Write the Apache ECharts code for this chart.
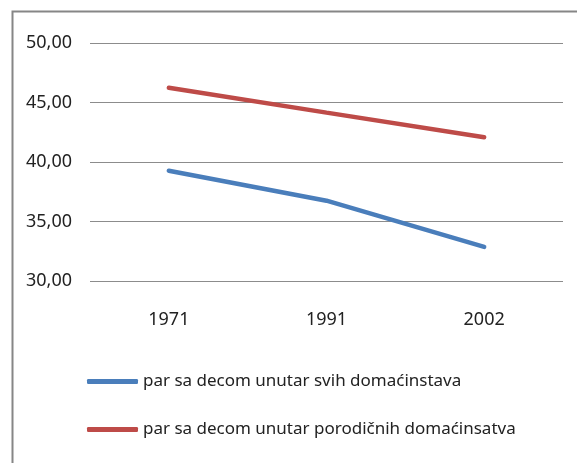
<!DOCTYPE html>
<html>
<head>
<meta charset="utf-8">
<script src="https://cdn.jsdelivr.net/npm/echarts@6/dist/echarts.min.js"></script>
<style>
  html, body { margin: 0; padding: 0; background: #fff; }
  #chart { width: 577px; height: 463px; }
</style>
</head>
<body>
<div id="chart"></div>
<script>
const years = ['1971', '1991', '2002']
const sviDomacinstva = [39.27, 36.75, 32.87]
const porodicnaDomacinstva = [46.24, 44.15, 42.08]
const seriesNames = [
  'par sa decom unutar svih domaćinstava',
  'par sa decom unutar porodičnih domaćinsatva'
]

const font = '"Noto Sans", sans-serif'
const chart = echarts.init(document.getElementById('chart'))

chart.setOption({
  animation: false,
  textStyle: { fontFamily: font },
  graphic: [{
    type: 'rect',
    left: 10,
    top: 9,
    shape: { width: 600, height: 500 },
    style: { fill: 'none', stroke: '#868686', lineWidth: 2 },
    silent: true
  }],
  grid: { left: 90, right: 14, top: 43, bottom: 182 },
  legend: {
    orient: 'vertical',
    left: 87,
    top: 373,
    padding: 0,
    itemWidth: 51,
    itemHeight: 5,
    itemGap: 31,
    icon: 'roundRect',
    textStyle: { fontSize: 17, color: '#222', fontFamily: font, padding: [0, 0, 0, 0] },
    data: seriesNames
  },
  xAxis: {
    type: 'category',
    data: years,
    boundaryGap: true,
    axisLine: { show: false },
    axisTick: { show: false },
    axisLabel: { fontSize: 18, color: '#222', margin: 30 }
  },
  yAxis: {
    type: 'value',
    min: 30,
    max: 50,
    interval: 5,
    axisLine: { show: false },
    axisTick: { show: false },
    axisLabel: {
      fontSize: 18,
      color: '#222',
      margin: 18,
      formatter: v => v.toFixed(2).replace('.', ',')
    },
    splitLine: { lineStyle: { color: '#8c8c8c', width: 1 } }
  },
  series: [
    {
      name: seriesNames[0],
      type: 'line',
      data: sviDomacinstva,
      symbol: 'none',
      color: '#4A7EBB',
      lineStyle: { width: 4.5, cap: 'round' }
    },
    {
      name: seriesNames[1],
      type: 'line',
      data: porodicnaDomacinstva,
      symbol: 'none',
      color: '#BE4B48',
      lineStyle: { width: 4.5, cap: 'round' }
    }
  ]
})
</script>
</body>
</html>
